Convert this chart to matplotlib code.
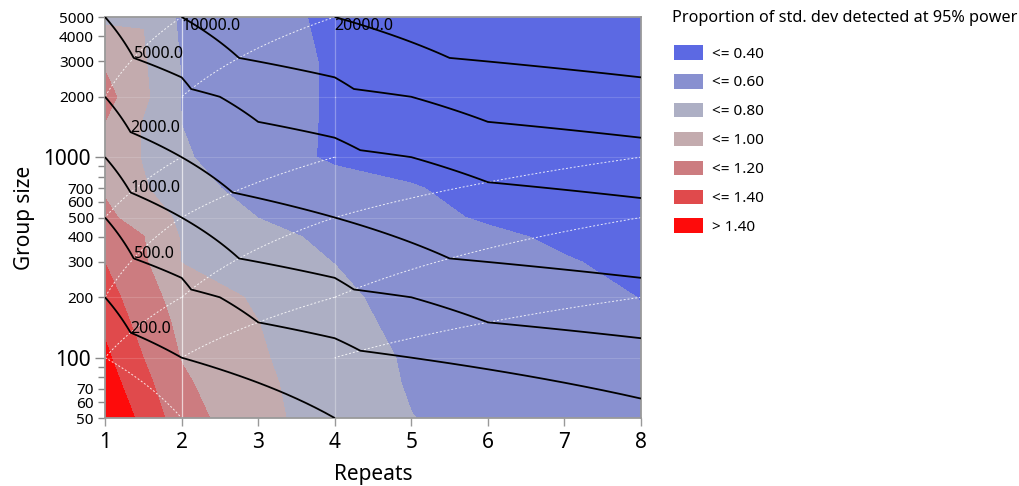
import matplotlib
matplotlib.use("Agg")
import matplotlib.pyplot as plt
import matplotlib.tri as mtri
from matplotlib.patches import Patch
import numpy as np

plt.rcParams["font.family"] = ["Noto Sans", "DejaVu Sans"]

# --- proportion of std. dev detected at 95% power ---
repeats = [1, 1.5, 2, 3, 4, 5, 6, 7, 8]
group_sizes = [50, 75, 100, 150, 200, 300, 400, 500, 700, 1000, 1500, 2000, 3000, 5000]
proportion = [
    [1.61, 1.34, 1.09, 0.845, 0.722, 0.603, 0.552, 0.501, 0.45],    # 50
    [1.50, 1.26, 1.03, 0.836, 0.704, 0.584, 0.540, 0.490, 0.435],   # 75
    [1.44, 1.20, 0.991, 0.819, 0.695, 0.576, 0.530, 0.478, 0.425],  # 100
    [1.356, 1.12, 0.955, 0.802, 0.675, 0.539, 0.500, 0.460, 0.41],  # 150
    [1.29, 1.07, 0.93, 0.771, 0.649, 0.520, 0.490, 0.450, 0.397],   # 200
    [1.197, 1.028, 0.795, 0.694, 0.596, 0.534, 0.472, 0.409, 0.37], # 300
    [1.114, 1.005, 0.785, 0.662, 0.555, 0.498, 0.430, 0.375, 0.355],# 400
    [1.04, 0.92, 0.762, 0.598, 0.524, 0.449, 0.380, 0.366, 0.34],   # 500
    [0.975, 0.816, 0.707, 0.50, 0.47, 0.405, 0.377, 0.349, 0.32],   # 700
    [0.93, 0.788, 0.62, 0.497, 0.37, 0.37, 0.35, 0.325, 0.30],      # 1000
    [1.00, 0.789, 0.598, 0.49, 0.375, 0.36, 0.34, 0.31, 0.28],      # 1500
    [1.07, 0.841, 0.595, 0.49, 0.375, 0.355, 0.33, 0.30, 0.27],     # 2000
    [0.97, 0.82, 0.59, 0.49, 0.375, 0.35, 0.32, 0.29, 0.26],        # 3000
    [0.752, 0.79, 0.565, 0.472, 0.36, 0.35, 0.32, 0.29, 0.25],      # 5000
]
band_edges = [0.0, 0.4, 0.6, 0.8, 1.0, 1.2, 1.4, 2.0]
band_labels = ["<= 0.40", "<= 0.60", "<= 0.80", "<= 1.00", "<= 1.20", "<= 1.40", "> 1.40"]
band_colors = ["#5c69e3", "#8890d0", "#adafc4", "#c3abae", "#cc7c80", "#e04a4c", "#fe0b0b"]
legend_title = "Proportion of std. dev detected at 95% power"

# --- total sample size on the coarse simulation mesh ---
mesh_repeats = [1, 2, 4, 8]
mesh_groups = [50, 100, 200, 500, 1000, 2000, 5000]
total_samples = [
    [50, 100, 200, 400],
    [100, 200, 400, 800],
    [200, 400, 800, 1600],
    [500, 1000, 2000, 4000],
    [1000, 2000, 4000, 8000],
    [2000, 4000, 8000, 16000],
    [5000, 10000, 20000, 40000],
]
total_levels = [200, 500, 1000, 2000, 5000, 10000, 20000]


def build_mesh():
    nx, ny = len(mesh_repeats), len(mesh_groups)
    xs = np.tile(mesh_repeats, ny).astype(float)
    ys = np.repeat(mesh_groups, nx).astype(float)
    tris = []
    for j in range(ny - 1):
        for i in range(nx - 1):
            a, b = j * nx + i, j * nx + i + 1
            c, d = (j + 1) * nx + i, (j + 1) * nx + i + 1
            if j == 0:
                tris += [[a, b, c], [b, d, c]]
            else:
                tris += [[a, b, d], [a, d, c]]
    return mtri.Triangulation(xs, ys, tris)


fig = plt.figure(figsize=(10.2, 4.86), dpi=100)
ax = fig.add_axes([105 / 1020, 68 / 486, 536 / 1020, 401 / 486])
ax.set_yscale("log")

ax.contourf(repeats, group_sizes, np.array(proportion), levels=band_edges,
            colors=band_colors, zorder=1)

mesh = build_mesh()
values = np.ravel(total_samples).astype(float)

# faint seams left by the renderer along the mesh edges
xmin, xmax = mesh_repeats[0], mesh_repeats[-1]
ymin, ymax = mesh_groups[0], mesh_groups[-1]
for i, j in mesh.edges:
    x0, y0, x1, y1 = mesh.x[i], mesh.y[i], mesh.x[j], mesh.y[j]
    if (x0 == x1 and x0 in (xmin, xmax)) or (y0 == y1 and y0 in (ymin, ymax)):
        continue
    t = np.linspace(0, 1, 40)
    sx, sy = x0 + (x1 - x0) * t, y0 + (y1 - y0) * t
    left, low = min(x0, x1), min(y0, y1)
    if x0 != x1 and y0 != y1:
        if low == mesh_groups[4] or (left >= mesh_repeats[2] and (low >= mesh_groups[4] or low == ymin)):
            continue
        ax.plot(sx, sy, color="white", lw=0.7, ls=(0, (2, 2)), alpha=0.85, zorder=2)
    elif x0 == x1:
        a = 0.65 if x0 == mesh_repeats[1] else 0.3
        ax.plot(sx, sy, color="white", lw=0.9, alpha=a, zorder=2)
    else:
        ax.plot(sx, sy, color="white", lw=0.8, alpha=0.15, zorder=2)

refiner = mtri.UniformTriRefiner(mesh)
fine_mesh, fine_total = refiner.refine_field(
    values, triinterpolator=mtri.LinearTriInterpolator(mesh, values), subdiv=4)
ax.tricontour(fine_mesh, fine_total, levels=total_levels, colors="black",
              linewidths=1.3, zorder=3)

# labels go at the first bend of each line (or where it enters at the top)
coarse = ax.tricontour(mesh, values, levels=total_levels, linewidths=0)
for level, path in zip(coarse.levels, coarse.get_paths()):
    v = path.vertices
    if len(v) == 0:
        continue
    if abs(v[-1][0] - 1) < 1e-9 or (abs(v[0][0] - 1) > 1e-9 and v[-1][1] > v[0][1]):
        v = v[::-1]
    if abs(v[0][0] - 1) < 1e-9:
        k = 1
        while k < len(v) - 1 and np.hypot(*(v[k] - v[0])) < 1e-6:
            k += 1
        ax.text(v[k][0], v[k][1], f"{level:.1f}", ha="left", va="baseline",
                fontsize=11.5, zorder=4)
    else:
        ax.text(v[0][0], v[0][1] * 0.985, f"{level:.1f}", ha="left", va="top",
                fontsize=11.5, zorder=4)
coarse.remove()

ax.set_xlim(1, 8)
ax.set_ylim(50, 5000)

ax.set_xticks(range(1, 9))
ax.tick_params(axis="x", labelsize=15, length=6, width=1, color="#999999", pad=4)

major_y = [100, 1000]
minor_y = [50, 60, 70, 80, 90, 200, 300, 400, 500, 600, 700, 800, 900,
           2000, 3000, 4000, 5000]
minor_lbl = ["50", "60", "70", "", "", "200", "300", "400", "500", "600", "700",
             "", "", "2000", "3000", "4000", "5000"]
ax.set_yticks(major_y, labels=["100", "1000"])
ax.set_yticks(minor_y, labels=minor_lbl, minor=True)
ax.tick_params(axis="y", which="major", labelsize=15, length=7, width=1,
               color="#888888", pad=3)
ax.tick_params(axis="y", which="minor", labelsize=11, length=5, width=1,
               color="#888888", pad=3)

for s in ax.spines.values():
    s.set_color("#9a9a9a")
    s.set_linewidth(1.3)

ax.set_xlabel("Repeats", fontsize=15, labelpad=8)
ax.set_ylabel("Group size", fontsize=15, labelpad=6)

fig.text(672 / 1020, 1 - 18 / 486, legend_title, fontsize=11.7, ha="left", va="center")
handles = [Patch(facecolor=c, edgecolor="none") for c in band_colors]
fig.legend(handles, band_labels, loc="upper left",
           bbox_to_anchor=(674 / 1020, 1 - 45 / 486),
           frameon=False, fontsize=11, handlelength=1.9, handleheight=1.1,
           handletextpad=0.6, labelspacing=0.81, borderpad=0, borderaxespad=0)

fig.savefig("out.png", dpi=100)
